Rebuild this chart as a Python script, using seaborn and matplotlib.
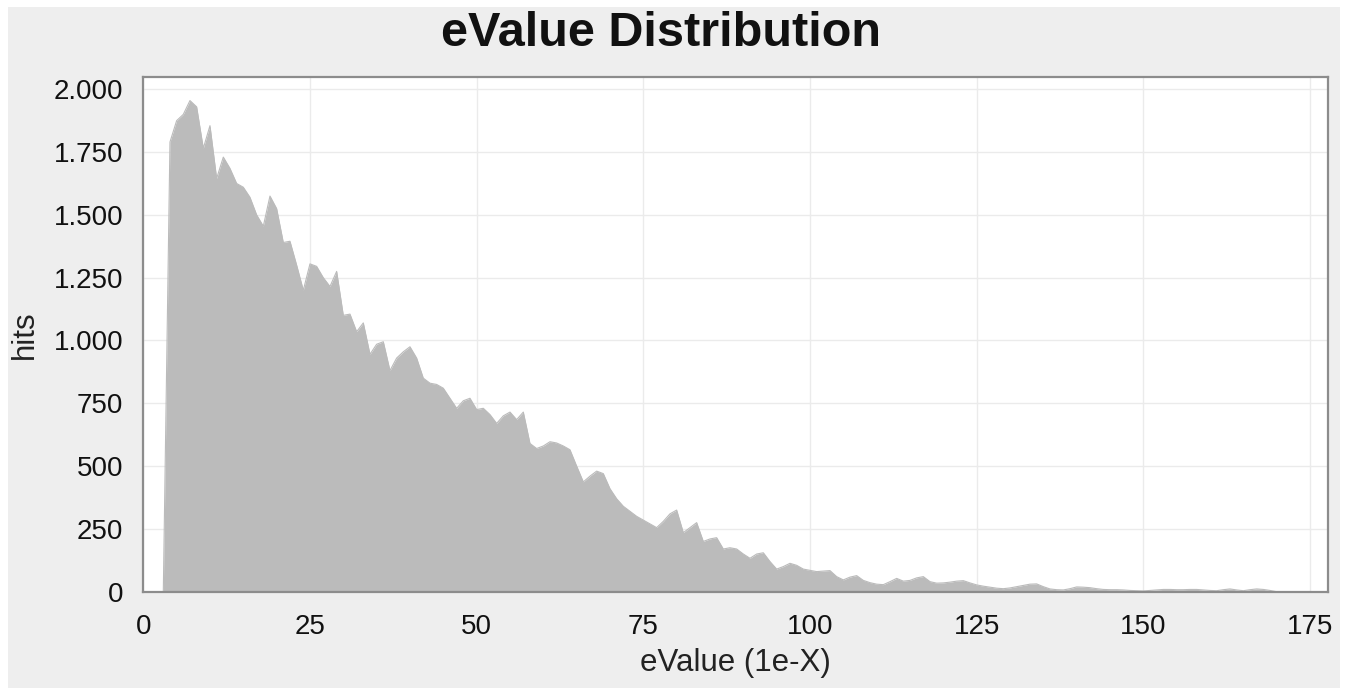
import numpy as np
import pandas as pd
import matplotlib
matplotlib.use("Agg")
import matplotlib.pyplot as plt
from matplotlib.patches import Rectangle
from matplotlib.ticker import FuncFormatter
import seaborn as sns

# eValue exponent (1e-X) and number of hits
evalue_x = list(range(3, 171))
hits = [
    0, 1790, 1875, 1900, 1955, 1930, 1765, 1855, 1645, 1730,            # 3-12
    1685, 1625, 1610, 1570, 1500, 1455, 1575, 1525, 1390, 1395,         # 13-22
    1300, 1200, 1305, 1295, 1250, 1215, 1275, 1100, 1105, 1035,         # 23-32
    1070, 945, 985, 995, 880, 930, 955, 975, 930, 850,                  # 33-42
    830, 825, 810, 770, 730, 760, 770, 725, 730, 705,                   # 43-52
    670, 700, 715, 685, 715, 590, 570, 580, 597, 592,                   # 53-62
    580, 565, 500, 437, 460, 480, 470, 410, 370, 340,                   # 63-72
    320, 300, 285, 270, 255, 280, 310, 325, 235, 255,                   # 73-82
    275, 200, 210, 215, 170, 175, 170, 150, 133, 150,                   # 83-92
    155, 120, 90, 100, 113, 105, 90, 85, 80, 82,                        # 93-102
    84, 60, 47, 58, 64, 45, 36, 30, 28, 40,                             # 103-112
    53, 42, 45, 55, 60, 40, 34, 35, 38, 42,                             # 113-122
    44, 35, 27, 22, 18, 14, 12, 15, 20, 25,                             # 123-132
    30, 31, 20, 11, 8, 7, 12, 19, 18, 16,                               # 133-142
    12, 9, 8, 8, 7, 5, 4, 3, 5, 7,                                      # 143-152
    9, 9, 8, 8, 9, 9, 7, 5, 4, 8,                                       # 153-162
    11, 7, 4, 8, 11, 9, 5, 0,                                           # 163-170
]
x_ticks = [0, 25, 50, 75, 100, 125, 150, 175]
y_ticks = [0, 250, 500, 750, 1000, 1250, 1500, 1750, 2000]

df = pd.DataFrame({"evalue": evalue_x, "hits": hits})

sns.set_theme(style="white")
plt.rcParams["font.family"] = ["Liberation Sans", "DejaVu Sans"]

fig = plt.figure(figsize=(13.49, 6.88), dpi=100, facecolor="white")
# light grey panel behind the chart, white strip round the edge
fig.patches.append(Rectangle((8 / 1349, 0), 1332 / 1349, 681 / 688,
                             transform=fig.transFigure, facecolor="#EEEEEE",
                             edgecolor="none", zorder=-10))
ax = fig.add_axes([143.3 / 1349, 1 - 591.7 / 688,
                   (1328 - 143.3) / 1349, (591.7 - 76.7) / 688])
ax.set_facecolor("white")

sns.lineplot(data=df, x="evalue", y="hits", ax=ax, color="#BBBBBB", linewidth=0.8)
ax.fill_between(df["evalue"], df["hits"], color="#BBBBBB", linewidth=0)

ax.set_xlim(0, 177.7)
ax.set_ylim(0, 2050)
ax.set_xticks(x_ticks)
ax.set_yticks(y_ticks)
ax.yaxis.set_major_formatter(FuncFormatter(lambda v, _: f"{int(v):,}".replace(",", ".")))
ax.grid(True, color="#EBEBEB", linewidth=1)
ax.set_axisbelow(True)

for s in ax.spines.values():
    s.set_color("#8C8C8C")
    s.set_linewidth(1.6)
ax.tick_params(axis="both", direction="out", length=5, width=1.4, color="#777777",
               labelsize=20, labelcolor="#111111")
ax.tick_params(axis="x", pad=11)
ax.tick_params(axis="y", pad=9.5)

ax.set_xlabel("eValue (1e-X)", fontsize=22.5, color="#222222", labelpad=6)
ax.set_ylabel("hits", fontsize=22.5, color="#222222", labelpad=10)
fig.text(661 / 1349, 1 - 46.5 / 688, "eValue Distribution", fontsize=35,
         fontweight="bold", color="#111111", ha="center", va="baseline")

fig.savefig("out.png", dpi=100, facecolor="white")
